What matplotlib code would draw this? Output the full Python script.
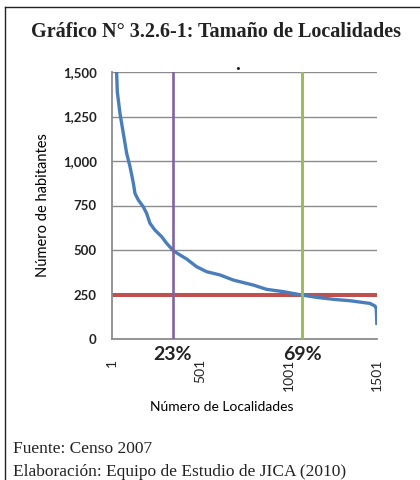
import matplotlib.pyplot as plt
from matplotlib.lines import Line2D

# curve: locality rank vs population
rank = [1, 8, 16, 24, 27, 31, 46, 65, 84, 103, 122, 131, 150, 178, 197, 216, 244,
        282, 310, 348, 386, 424, 480, 537, 612, 688, 801, 876, 971, 1075, 1160,
        1254, 1348, 1461, 1490, 1497, 1500]
habitantes = [4000, 2600, 1900, 1600, 1500, 1389, 1268, 1156, 1043, 968, 875, 818, 781, 743, 706, 650, 612,
              575, 538, 496, 472, 449, 406, 378, 360, 331, 303, 279, 266, 247, 234,
              223, 215, 200, 185, 170, 88]

umbral = 250          # red reference line
corte_23 = 348        # purple line
corte_69 = 1075       # green line

y_ticks = [0, 250, 500, 750, 1000, 1250, 1500]
x_ticks = [1, 501, 1001, 1501]

fig = plt.figure(figsize=(4.2, 4.8), dpi=100)
ax = fig.add_axes([112 / 420, 1 - 339 / 480, 265 / 420, 267 / 480])

ax.axhline(umbral, color='#C0504D', lw=2.9, zorder=2)
ax.plot(rank, habitantes, color='#4A7EBB', lw=2.4, zorder=3, solid_joinstyle='round')
ax.axvline(corte_23, color='#8064A2', lw=1.9, zorder=4)
ax.axvline(corte_69, color='#9BBB59', lw=2.1, zorder=4)

ax.set_xlim(1, 1501)
ax.set_ylim(0, 1500)
ax.set_yticks(y_ticks)
ax.set_yticklabels([f'{v:,}' for v in y_ticks], fontfamily='Lato', fontweight='bold',
                   fontsize=9.5, color='#222222')
ax.set_xticks(x_ticks)
ax.set_xticklabels([str(v) for v in x_ticks], rotation=90, fontfamily='Lato',
                   fontsize=10, color='#222222', va='top')
ax.tick_params(axis='y', length=0, pad=11)
ax.tick_params(axis='x', length=0, pad=14)
ax.grid(axis='y', color='#8C8C8C', lw=1.0)
ax.set_axisbelow(True)
for s in ['top', 'right']:
    ax.spines[s].set_visible(False)
for s in ['left', 'bottom']:
    ax.spines[s].set_color('#8C8C8C')
    ax.spines[s].set_linewidth(1.3)

ax.set_ylabel('Número de habitantes', fontfamily='Lato', fontsize=10.5, labelpad=9)
fig.text(222 / 420, 1 - 407 / 480, 'Número de Localidades', fontfamily='Lato',
         fontsize=10, ha='center', va='center')

# percentage labels under the axis
fig.text(172 / 420, 1 - 355 / 480, '23%', fontfamily='Lato', fontweight='bold',
         fontsize=14, ha='center', va='center', color='#222222')
fig.text(302 / 420, 1 - 355 / 480, '69%', fontfamily='Lato', fontweight='bold',
         fontsize=14, ha='center', va='center', color='#222222')

fig.text(216 / 420, 1 - 32 / 480, 'Gráfico N° 3.2.6-1: Tamaño de Localidades',
         fontfamily='Liberation Serif', fontweight='bold', fontsize=14.5,
         ha='center', va='center', color='#222222')
fig.text(238 / 420, 1 - 65 / 480, '.', fontfamily='Liberation Serif', fontweight='bold',
         fontsize=14, ha='center', va='center', color='#222222')

fig.text(13 / 420, 1 - 453 / 480, 'Fuente: Censo 2007', fontfamily='Liberation Serif',
         fontsize=12.5, ha='left', va='baseline', color='#222222')
fig.text(13 / 420, 1 - 476 / 480, 'Elaboración: Equipo de Estudio de JICA (2010)',
         fontfamily='Liberation Serif', fontsize=12.5, ha='left', va='baseline', color='#222222')

# frame around the figure (left and top edges only visible)
fig.add_artist(Line2D([5 / 420, 5 / 420], [0, 1 - 7 / 480], color='#222222', lw=1.0,
                      transform=fig.transFigure))
fig.add_artist(Line2D([5 / 420, 1], [1 - 7 / 480, 1 - 7 / 480], color='#222222', lw=1.0,
                      transform=fig.transFigure))

fig.savefig('out.png', dpi=100)
